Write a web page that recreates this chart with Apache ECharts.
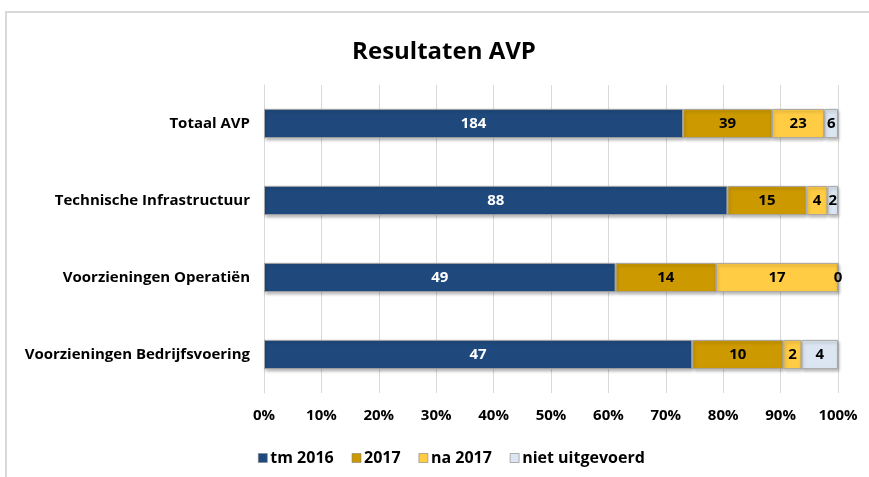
<!DOCTYPE html>
<html>
<head>
<meta charset="utf-8">
<script src="https://cdn.jsdelivr.net/npm/echarts@6/dist/echarts.min.js"></script>
<style>
  html, body { margin: 0; padding: 0; background: #fff; }
  #main { position: absolute; left: 5px; top: 11px; width: 880px; height: 480px;
          border-left: 2px solid #d9d9d9; border-top: 2px solid #d9d9d9; box-sizing: border-box; }
</style>
</head>
<body>
<div id="main"></div>
<script>
// categories top -> bottom
const categories = ['Totaal AVP', 'Technische Infrastructuur', 'Voorzieningen Operatiën', 'Voorzieningen Bedrijfsvoering']
const seriesNames = ['tm 2016', '2017', 'na 2017', 'niet uitgevoerd']
const tm2016 = [184, 88, 49, 47]
const y2017 = [39, 15, 14, 10]
const na2017 = [23, 4, 17, 2]
const nietUitgevoerd = [6, 2, 0, 4]
const colors = ['#1f497d', '#cc9900', '#ffcc44', '#dce6f2']
const labelColors = ['#ffffff', '#000000', '#000000', '#000000']

const raw = [tm2016, y2017, na2017, nietUitgevoerd]
const totals = categories.map((c, i) => raw.reduce((s, arr) => s + arr[i], 0))

const font = '"Open Sans", sans-serif'

const chart = echarts.init(document.getElementById('main'))
chart.setOption({
  animation: false,
  title: {
    text: 'Resultaten AVP',
    left: 432,
    textAlign: 'center',
    top: 22,
    textStyle: { fontFamily: font, fontSize: 24, fontWeight: 'bold', color: '#000' }
  },
  grid: { left: 257, right: 47, top: 72, bottom: 98, containLabel: false },
  legend: {
    bottom: 20,
    left: 246,
    itemWidth: 9,
    itemHeight: 9,
    itemGap: 18,
    icon: 'rect',
    textStyle: { fontFamily: font, fontSize: 16, fontWeight: 'bold', color: '#000', padding: [0, 0, 0, -2] },
    data: seriesNames.map(n => ({ name: n, itemStyle: { borderColor: '#7f7f7f', borderWidth: 0.6 } }))
  },
  xAxis: {
    type: 'value',
    min: 0,
    max: 100,
    interval: 10,
    axisLine: { show: false },
    axisTick: { show: false },
    splitLine: { show: true, lineStyle: { color: '#d9d9d9', width: 1 } },
    axisLabel: { formatter: '{value}%', fontFamily: font, fontSize: 15, fontWeight: 'bold', color: '#000', margin: 15 }
  },
  yAxis: {
    type: 'category',
    inverse: true,
    data: categories,
    axisLine: { show: true, lineStyle: { color: '#d9d9d9' } },
    axisTick: { show: false },
    axisLabel: { fontFamily: font, fontSize: 15, fontWeight: 'bold', color: '#000', margin: 14 }
  },
  series: raw.map((arr, s) => ({
    name: seriesNames[s],
    type: 'bar',
    stack: 'total',
    barWidth: '38%',
    itemStyle: { color: colors[s], borderColor: '#a6a6a6', borderWidth: 1,
                 shadowColor: 'rgba(0,0,0,0.25)', shadowBlur: 3, shadowOffsetX: 1, shadowOffsetY: 2 },
    label: {
      show: true,
      position: 'inside',
      fontFamily: font,
      fontSize: 15,
      fontWeight: 'bold',
      color: labelColors[s],
      formatter: p => raw[s][p.dataIndex]
    },
    data: arr.map((v, i) => v / totals[i] * 100)
  }))
})
</script>
</body>
</html>
